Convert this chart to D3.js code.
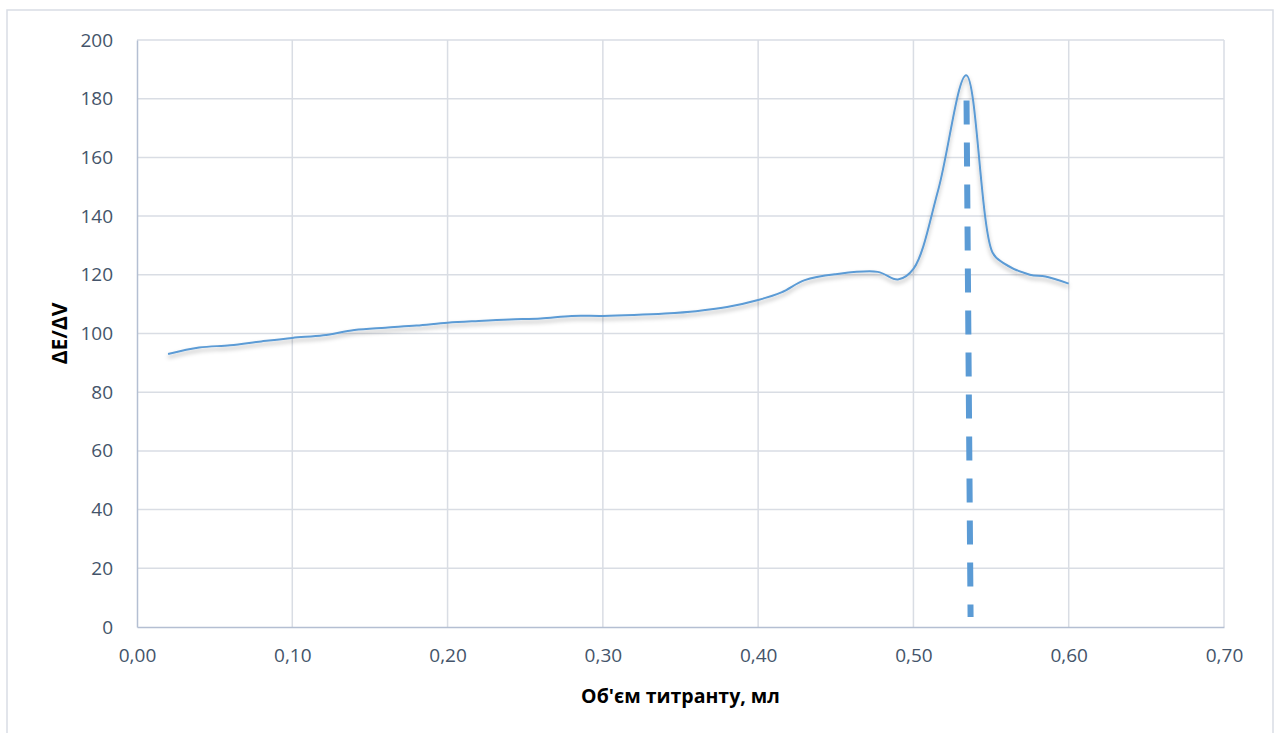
<html>
<script src='https://d3js.org/d3.v7.min.js'></script>
<style>
  body {margin: 0; background: #fff;}
  text {font-family: 'Open Sans', sans-serif;}
</style>
<body onload='init()'>
<svg width=1276 height=733></svg>
<script>
// titrant volume (ml) and dE/dV
var volume = [0.02, 0.04, 0.06, 0.08, 0.10, 0.12, 0.14, 0.16, 0.18, 0.20,
              0.22, 0.24, 0.26, 0.28, 0.30, 0.32, 0.34, 0.36, 0.38, 0.40,
              0.415, 0.43, 0.45, 0.477, 0.49, 0.50, 0.516, 0.534, 0.551, 0.558,
              0.575, 0.585, 0.60];
var dEdV   = [93.0, 95.2, 96.0, 97.3, 98.5, 99.4, 101.2, 102.0, 102.7, 103.7,
              104.3, 104.8, 105.1, 106.0, 106.0, 106.3, 106.8, 107.6, 109.0, 111.4,
              114.0, 118.2, 120.2, 121.0, 118.4, 122.0, 149.0, 188.0, 127.5, 124.0,
              120.0, 119.4, 117.0];
// equivalence point marker
var eqX = [0.5342, 0.5368];
var eqY = [179.4, 3.4];

var xTicks = [0, 0.1, 0.2, 0.3, 0.4, 0.5, 0.6, 0.7];
var yTicks = [0, 20, 40, 60, 80, 100, 120, 140, 160, 180, 200];

function init() {
  var svg = d3.select('svg');
  var left = 137, right = 1224, top = 40, bottom = 627;

  var x = d3.scaleLinear([0, 0.7], [left, right]);
  var y = d3.scaleLinear([0, 200], [bottom, top]);

  // chart frame
  svg.append('rect')
    .attr('x', 7).attr('y', 10).attr('width', 1266).attr('height', 740)
    .attr('fill', 'none').attr('stroke', '#d9dde5').attr('stroke-width', 1.5);

  var defs = svg.append('defs');
  defs.append('filter').attr('id', 'shadow')
    .attr('x', '-5%').attr('y', '-20%').attr('width', '110%').attr('height', '150%')
    .append('feDropShadow')
    .attr('dx', 0).attr('dy', 3).attr('stdDeviation', 2)
    .attr('flood-color', '#000').attr('flood-opacity', 0.3);

  // grid
  var grid = svg.append('g');
  grid.selectAll('.h').data(yTicks.slice(1)).enter().append('line')
    .attr('x1', left).attr('x2', right)
    .attr('y1', d => y(d)).attr('y2', d => y(d))
    .attr('stroke', '#d9dde4').attr('stroke-width', 1.5);
  grid.selectAll('.v').data(xTicks.slice(1)).enter().append('line')
    .attr('y1', top).attr('y2', bottom)
    .attr('x1', d => x(d)).attr('x2', d => x(d))
    .attr('stroke', '#d9dde4').attr('stroke-width', 1.5);

  // axes
  var yAxis = d3.axisLeft(y).tickValues(yTicks).tickSize(0).tickPadding(24);
  var xAxis = d3.axisBottom(x).tickValues(xTicks).tickSize(0).tickPadding(22)
    .tickFormat(d => d3.format('.2f')(d).replace('.', ','));

  var gy = svg.append('g').attr('transform', 'translate(' + left + ',0)').call(yAxis);
  var gx = svg.append('g').attr('transform', 'translate(0,' + bottom + ')').call(xAxis);
  [gx, gy].forEach(function(g) {
    g.select('.domain').attr('stroke', '#b4bfd2').attr('stroke-width', 1.5);
    g.selectAll('text').attr('fill', '#44546a').style('font-size', '19px')
      .style('font-family', "'Open Sans', sans-serif");
  });

  // series
  var pts = volume.map((v, i) => [v, dEdV[i]]);
  var line = d3.line().x(d => x(d[0])).y(d => y(d[1])).curve(d3.curveCatmullRom.alpha(0.5));
  svg.append('path').datum(pts)
    .attr('d', line)
    .attr('fill', 'none').attr('stroke', '#5b9bd5').attr('stroke-width', 2)
    .attr('filter', 'url(#shadow)');

  // dashed marker
  svg.append('line')
    .attr('x1', x(eqX[0])).attr('y1', y(eqY[0]))
    .attr('x2', x(eqX[1])).attr('y2', y(eqY[1]))
    .attr('stroke', '#5b9bd5').attr('stroke-width', 6)
    .attr('stroke-dasharray', '24,18');

  // axis titles
  svg.append('text')
    .attr('transform', 'translate(67,' + ((top + bottom) / 2) + ') rotate(-90)')
    .attr('text-anchor', 'middle')
    .style('font-weight', 'bold').style('font-size', '21px')
    .text('ΔE/ΔV');
  svg.append('text')
    .attr('x', (left + right) / 2).attr('y', 703)
    .attr('text-anchor', 'middle')
    .style('font-weight', 'bold').style('font-size', '19.5px')
    .text("Об'єм титранту, мл");
}
</script>
</body>
</html>
